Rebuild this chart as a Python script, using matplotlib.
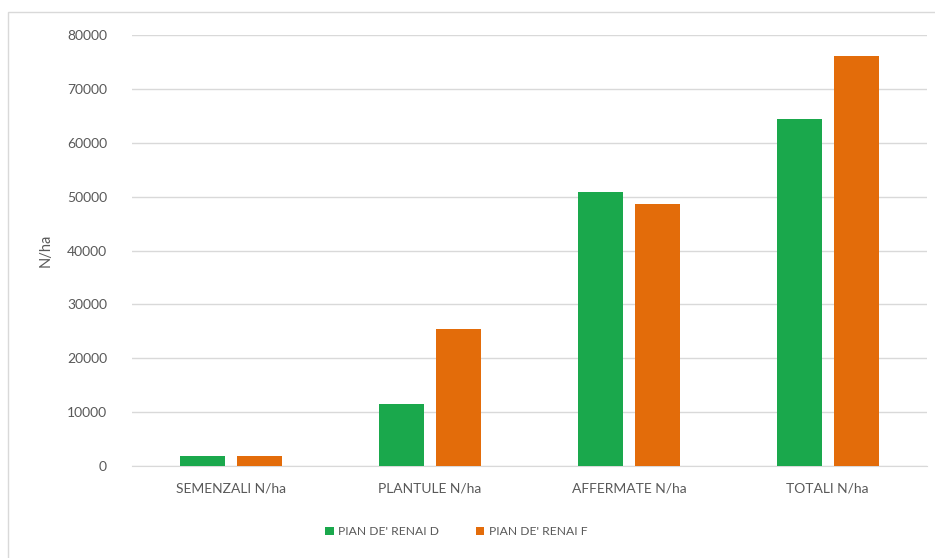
import numpy as np
import matplotlib.pyplot as plt
from matplotlib.patches import Rectangle

# data
categories = ['SEMENZALI N/ha', 'PLANTULE N/ha', 'AFFERMATE N/ha', 'TOTALI N/ha']
renai_d = [1900, 11600, 50800, 64400]
renai_f = [1900, 25400, 48600, 76100]
series_names = ["PIAN DE' RENAI D", "PIAN DE' RENAI F"]
yticks = [0, 10000, 20000, 30000, 40000, 50000, 60000, 70000, 80000]

green = '#1aa84c'
orange = '#e36c0a'
grey_text = '#595959'

plt.rcParams['font.family'] = ['Lato', 'DejaVu Sans']

fig = plt.figure(figsize=(9.35, 5.58), dpi=100)
ax = fig.add_axes([132 / 935, 1 - 466 / 558, 795 / 935, 431 / 558])

# chart area border like the excel frame
fig.patches.append(Rectangle((8 / 935, -0.1), 1.2, 1 - 12 / 558 + 0.1,
                             transform=fig.transFigure, fill=False,
                             edgecolor='#d9d9d9', linewidth=1))

x = np.arange(len(categories))
w = 0.226
off = 0.143
ax.bar(x - off, renai_d, w, color=green, label=series_names[0], zorder=3)
ax.bar(x + off, renai_f, w, color=orange, label=series_names[1], zorder=3)

ax.set_xlim(-0.5, len(categories) - 0.5)
ax.set_ylim(0, 80000)
ax.set_yticks(yticks)
ax.set_xticks(x)
ax.set_xticklabels(categories)
ax.grid(axis='y', color='#d9d9d9', linewidth=1, zorder=0)
ax.tick_params(axis='both', length=0, colors=grey_text, labelsize=10)
ax.tick_params(axis='x', pad=12)
ax.tick_params(axis='y', pad=18)
for s in ['top', 'right', 'left']:
    ax.spines[s].set_visible(False)
ax.spines['bottom'].set_color('#d9d9d9')

ax.set_ylabel('N/ha', color=grey_text, fontsize=10.5, labelpad=10)

ax.legend(loc='upper center', bbox_to_anchor=(0.408, -0.115), ncol=2,
          frameon=False, fontsize=8.7, labelcolor=grey_text,
          handlelength=0.7, handleheight=0.7, handletextpad=0.4,
          columnspacing=3.0)

fig.savefig('out.png', dpi=100)
